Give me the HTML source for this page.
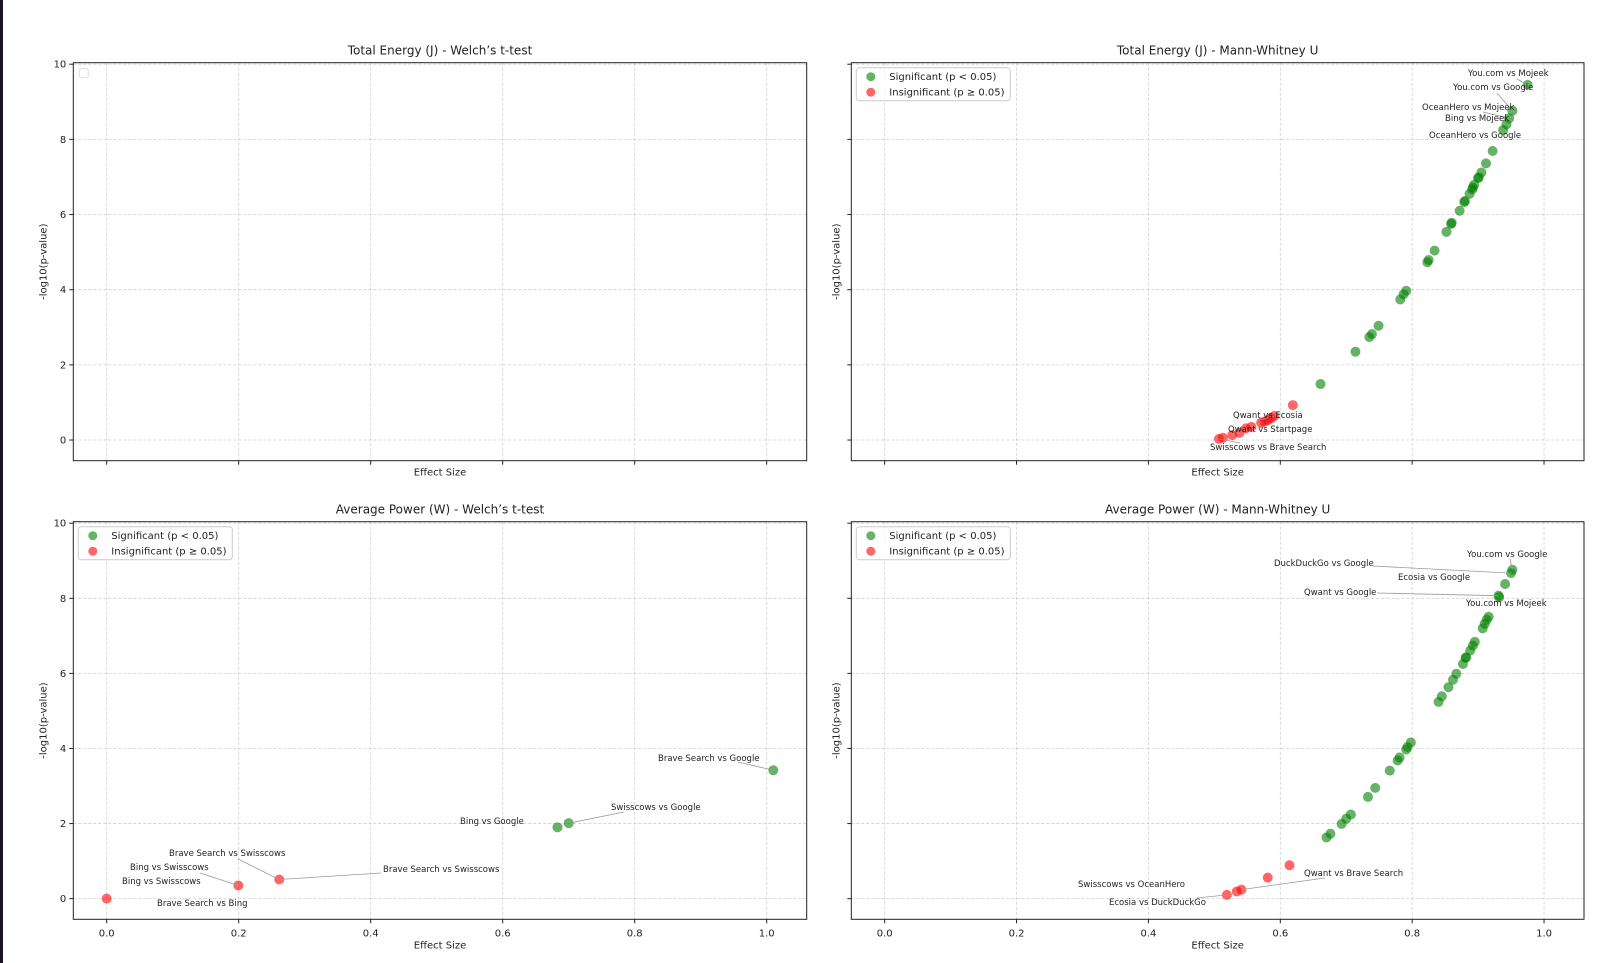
<!DOCTYPE html>
<html><head><meta charset="utf-8"><style>
html,body{margin:0;padding:0;background:#fff;}
svg{display:block;font-family:"DejaVu Sans","Liberation Sans",sans-serif;}
</style></head><body>
<svg id="fig" width="1600" height="963" viewBox="0 0 1600 963" xmlns="http://www.w3.org/2000/svg">
<rect x="0" y="0" width="1600" height="963" fill="#fff"/>
<rect x="0" y="0" width="3" height="963" fill="#1c1420"/>
</svg>
<script>
// ---------- data ----------
const xTicks = [0.0, 0.2, 0.4, 0.6, 0.8, 1.0];
const xTickLabels = ["0.0", "0.2", "0.4", "0.6", "0.8", "1.0"];
const yTicks = [0, 2, 4, 6, 8, 10];
const yTickLabels = ["0", "2", "4", "6", "8", "10"];

const teSigX = [0.975,0.952,0.947,0.943,0.938,0.922,0.912,0.905,0.901,0.900,0.894,0.892,0.891,0.887,0.880,0.879,0.872,0.860,0.859,0.852,0.834,0.825,0.823,0.791,0.787,0.782,0.749,0.739,0.735,0.714,0.661];
const teSigY = [9.45,8.76,8.56,8.40,8.25,7.69,7.36,7.12,6.99,6.97,6.79,6.72,6.67,6.55,6.36,6.33,6.10,5.78,5.75,5.54,5.04,4.79,4.73,3.97,3.88,3.74,3.04,2.82,2.74,2.35,1.49];
const teInsX = [0.619,0.591,0.586,0.581,0.576,0.571,0.556,0.548,0.538,0.527,0.513,0.507];
const teInsY = [0.93,0.64,0.58,0.53,0.49,0.46,0.35,0.31,0.19,0.13,0.06,0.03];

const apSigX = [0.952,0.950,0.941,0.931,0.932,0.916,0.913,0.910,0.907,0.895,0.892,0.888,0.882,0.881,0.877,0.867,0.862,0.855,0.845,0.840,0.798,0.793,0.791,0.781,0.778,0.766,0.744,0.733,0.707,0.700,0.693,0.676,0.670];
const apSigY = [8.76,8.67,8.38,8.07,8.03,7.51,7.43,7.32,7.20,6.84,6.74,6.61,6.43,6.41,6.25,5.99,5.83,5.63,5.39,5.24,4.16,4.04,3.97,3.76,3.68,3.41,2.95,2.71,2.24,2.13,1.99,1.73,1.63];
const apInsX = [0.614,0.581,0.541,0.534,0.519];
const apInsY = [0.89,0.56,0.24,0.19,0.10];

const wSigX = [1.010,0.700,0.683];
const wSigY = [3.42,2.01,1.90];
const wInsX = [0.2615,0.1994,0.0];
const wInsY = [0.51,0.35,0.0];

// ---------- layout ----------
const NS = "http://www.w3.org/2000/svg";
const svg = document.getElementById("fig");
const XMIN = -0.0506, XMAX = 1.0606, YMIN = -0.55, YMAX = 10.04;
const panels = [
  {key:"tl", x0:73.3, x1:806.7, y0:62.7, y1:460.7, title:"Total Energy (J) - Welch\u2019s t-test", ylab:true, xlab:false, legend:"empty"},
  {key:"tr", x0:851.3, x1:1584, y0:62.7, y1:460.7, title:"Total Energy (J) - Mann-Whitney U", ylab:false, xlab:false, legend:"full"},
  {key:"bl", x0:73.3, x1:806.7, y0:521.7, y1:919.3, title:"Average Power (W) - Welch\u2019s t-test", ylab:true, xlab:true, legend:"full"},
  {key:"br", x0:851.3, x1:1584, y0:521.7, y1:919.3, title:"Average Power (W) - Mann-Whitney U", ylab:false, xlab:true, legend:"full"}
];
function sx(p, v){ return p.x0 + (v - XMIN) / (XMAX - XMIN) * (p.x1 - p.x0); }
function sy(p, v){ return p.y1 - (v - YMIN) / (YMAX - YMIN) * (p.y1 - p.y0); }
function mk(tag, attrs, parent){
  const e = document.createElementNS(NS, tag);
  for (const k in attrs) e.setAttribute(k, attrs[k]);
  (parent || svg).appendChild(e);
  return e;
}
const GREEN = "#008000", RED = "#ff0000";

panels.forEach(p => {
  const g = mk("g", {});
  
  
  xTicks.forEach(t => {
    const l = mk("line", {x1:sx(p,t), x2:sx(p,t), y1:p.y0, y2:p.y1, stroke:"#cfcfcf", "stroke-width":0.8, "stroke-dasharray":"3,2"}, g);
    
    
  });
  yTicks.forEach(t => {
    const l = mk("line", {x1:p.x0, x2:p.x1, y1:sy(p,t), y2:sy(p,t), stroke:"#cfcfcf", "stroke-width":0.8, "stroke-dasharray":"3,2"}, g);
    
    
  });
  const fr = mk("rect", {x:p.x0, y:p.y0, width:p.x1-p.x0, height:p.y1-p.y0, fill:"none", stroke:"#222", "stroke-width":1}, g);
  
  
  xTicks.forEach((t,i) => {
    mk("line", {x1:sx(p,t), x2:sx(p,t), y1:p.y1, y2:p.y1+4, stroke:"#222", "stroke-width":1}, g);
    if (p.xlab) {
      const tx = mk("text", {x:sx(p,t), y:p.y1+17, "font-size":10, "text-anchor":"middle", fill:"#222"}, g);
      tx.textContent = xTickLabels[i];
      
      
    }
  });
  yTicks.forEach((t,i) => {
    mk("line", {x1:p.x0-4, x2:p.x0, y1:sy(p,t), y2:sy(p,t), stroke:"#222", "stroke-width":1}, g);
    if (p.ylab) {
      const tx = mk("text", {x:p.x0-7, y:sy(p,t)+3.5, "font-size":10, "text-anchor":"end", fill:"#222"}, g);
      tx.textContent = yTickLabels[i];
      
      
    }
  });
  const ti = mk("text", {x:(p.x0+p.x1)/2, y:p.y0-8, "font-size":12, "text-anchor":"middle", fill:"#222"}, g);
  ti.textContent = p.title;
  
  
  const xl = mk("text", {x:(p.x0+p.x1)/2, y:p.y1+(p.xlab?29:15), "font-size":10, "text-anchor":"middle", fill:"#222"}, g);
  xl.textContent = "Effect Size";
  
  
  const ylx = p.x0 - (p.ylab ? 27 : 12), yly = (p.y0+p.y1)/2;
  const yl = mk("text", {x:ylx, y:yly, "font-size":10, "text-anchor":"middle", fill:"#222", transform:"rotate(-90 "+ylx+" "+yly+")"}, g);
  yl.textContent = "-log10(p-value)";
  
  
  p.g = g;
});

function drawPoints(p, xs, ys, color, name){
  const pts = [];
  xs.forEach((v,i) => {
    const c = mk("circle", {cx:sx(p,v), cy:sy(p,ys[i]), r:5, fill:color, "fill-opacity":0.6}, p.g);
    
    
    pts.push([sx(p,v), sy(p,ys[i])]);
  });
  return pts;
}
const P = {}; panels.forEach(p => P[p.key] = p);

function annotate(p, list, series){
  list.forEach(a => {
    if (a[6] !== null) {
      const pt = series[a[4]][a[5]];
      const l = mk("line", {x1:a[6], y1:a[7], x2:pt[0], y2:pt[1], stroke:"#999", "stroke-width":0.8}, p.g);
      
      
    }
    const t = mk("text", {x:a[1], y:a[2]+3, "font-size":8.5, "text-anchor":a[3], fill:"#222"}, p.g);
    t.textContent = a[0];
    
    
  });
}

const trS = {s:drawPoints(P.tr, teSigX, teSigY, GREEN, "significant-point"), i:drawPoints(P.tr, teInsX, teInsY, RED, "insignificant-point")};
annotate(P.tr, [
  ["You.com vs Mojeek", 1468, 73, "start", "s", 0, 1517, 79],
  ["You.com vs Google", 1453, 87, "start", "s", 1, 1497, 93],
  ["OceanHero vs Mojeek", 1422, 107, "start", "s", 2, 1483, 112],
  ["Bing vs Mojeek", 1445, 118, "start", "s", 3, null, null],
  ["OceanHero vs Google", 1429, 135, "start", "s", 4, 1502, 131],
  ["Qwant vs Ecosia", 1233, 415, "start", "i", 1, 1260, 420],
  ["Qwant vs Startpage", 1228, 429, "start", "i", 5, 1255, 424],
  ["Swisscows vs Brave Search", 1210, 447, "start", "i", 11, 1240, 443]
], trS);

const blS = {s:drawPoints(P.bl, wSigX, wSigY, GREEN, "significant-point"), i:drawPoints(P.bl, wInsX, wInsY, RED, "insignificant-point")};
annotate(P.bl, [
  ["Brave Search vs Google", 658, 758, "start", "s", 0, 738, 762],
  ["Swisscows vs Google", 611, 807, "start", "s", 1, 624, 812],
  ["Bing vs Google", 460, 821, "start", "s", 2, null, null],
  ["Brave Search vs Swisscows", 169, 853, "start", "i", 0, 238, 859],
  ["Brave Search vs Swisscows", 383, 869, "start", "i", 0, 381, 873],
  ["Bing vs Swisscows", 130, 867, "start", "i", 1, 200, 873],
  ["Bing vs Swisscows", 122, 881, "start", "i", 1, null, null],
  ["Brave Search vs Bing", 157, 903, "start", "i", 2, null, null]
], blS);

const brS = {s:drawPoints(P.br, apSigX, apSigY, GREEN, "significant-point"), i:drawPoints(P.br, apInsX, apInsY, RED, "insignificant-point")};
annotate(P.br, [
  ["You.com vs Google", 1467, 554, "start", "s", 0, 1510, 559],
  ["DuckDuckGo vs Google", 1274, 563, "start", "s", 1, 1373, 566],
  ["Ecosia vs Google", 1398, 577, "start", "s", 2, null, null],
  ["Qwant vs Google", 1304, 592, "start", "s", 3, 1377, 593],
  ["You.com vs Mojeek", 1466, 603, "start", "s", 4, null, null],
  ["Qwant vs Brave Search", 1304, 873, "start", "i", 2, 1325, 878],
  ["Swisscows vs OceanHero", 1078, 884, "start", "i", 3, null, null],
  ["Ecosia vs DuckDuckGo", 1109, 902, "start", "i", 4, 1197, 898]
], brS);

panels.forEach(p => {
  if (p.legend === "empty") {
    const r = mk("rect", {x:p.x0+6, y:p.y0+6, width:9, height:9, rx:2, fill:"#fff", stroke:"#ddd", "stroke-width":1}, p.g);
    
    
    return;
  }
  const lg = mk("g", {}, p.g);
  
  
  const lx = p.x0 + 5, ly = p.y0 + 5;
  mk("rect", {x:lx, y:ly, width:154, height:33, rx:3, fill:"#fff", "fill-opacity":0.8, stroke:"#ccc", "stroke-width":1}, lg);
  [["Significant (p < 0.05)", GREEN, "legend-entry-significant"], ["Insignificant (p \u2265 0.05)", RED, "legend-entry-insignificant"]].forEach((e,i) => {
    const eg = mk("g", {}, lg);
    
    
    mk("circle", {cx:lx+14.5, cy:ly+9+i*15.5, r:4.5, fill:e[1], "fill-opacity":0.6}, eg);
    const t = mk("text", {x:lx+33, y:ly+12.5+i*15.5, "font-size":10, fill:"#222"}, eg);
    t.textContent = e[0];
  });
});
</script>
</body></html>
